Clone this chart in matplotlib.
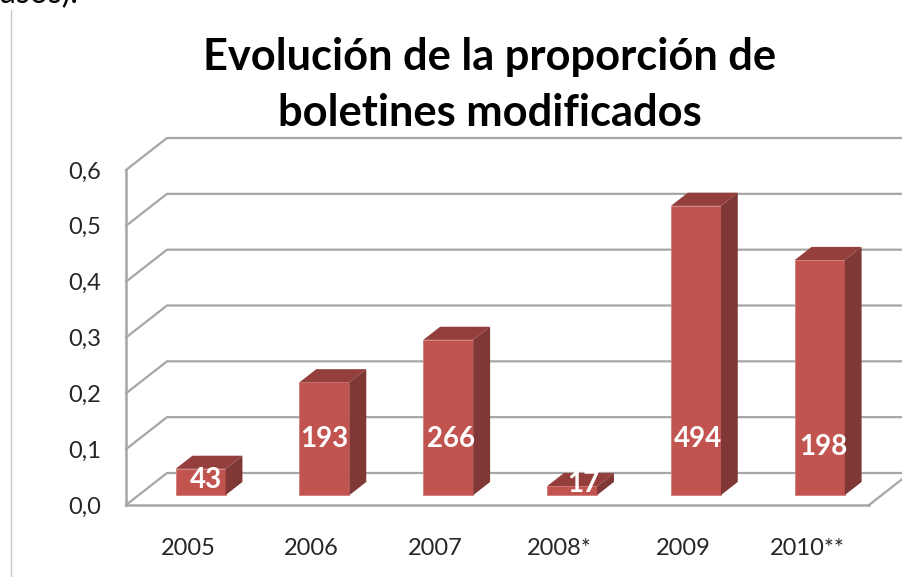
import matplotlib
matplotlib.use('Agg')
import matplotlib.pyplot as plt
from matplotlib.patches import Polygon
from matplotlib.lines import Line2D

# datos
years = ['2005', '2006', '2007', '2008*', '2009', '2010**']
proportion = [0.047, 0.202, 0.278, 0.016, 0.518, 0.421]
counts = [43, 193, 266, 17, 494, 198]
y_ticks = [0.0, 0.1, 0.2, 0.3, 0.4, 0.5, 0.6]
title = 'Evolución de la proporción de\nboletines modificados'

W, H = 902, 577
plt.rcParams['font.family'] = ['Lato', 'DejaVu Sans']

fig = plt.figure(figsize=(W / 100, H / 100), dpi=100)
ax = fig.add_axes([126 / W, (H - 505) / H, 743 / W, 335 / H])
ax.set_xlim(-0.5, 5.5)
ax.set_ylim(0, 0.6)

# profundidad del grafico 3D en unidades de datos
depth_x = 41 / (743 / 6)
depth_y = 32 / (335 / 0.6)
grid_col = '#A6A6A6'


def at_depth(x, y, d):
    return (x + depth_x * d, y + depth_y * d)


# rejilla: linea inclinada en la pared izquierda y linea horizontal atras
for t in y_ticks:
    ax.add_line(Line2D([-0.5, -0.5 + depth_x, 5.5 + depth_x],
                       [t, t + depth_y, t + depth_y],
                       color=grid_col, lw=1.6, clip_on=False, zorder=1))
ax.add_line(Line2D([5.5, 5.5 + depth_x], [0, depth_y],
                   color=grid_col, lw=1.6, clip_on=False, zorder=1))

# barras
bar_w = 50 / (743 / 6)
d0, d1 = 0.31, 0.72
# posicion de las etiquetas dentro de cada barra
label_h = [0.027, 0.101, 0.101, 0.019, 0.101, 0.086]
label_dx = [0.04, 0.0, 0.02, 0.09, 0.02, 0.03]
for i, v in enumerate(proportion):
    l = i - bar_w / 2
    r = i + bar_w / 2
    fl, fb = at_depth(l, 0, d0)
    ax.bar(fl, v, width=bar_w, bottom=fb, align='edge', color='#C25450',
           edgecolor='#CF7F7C', linewidth=0.6, zorder=3)
    top = [at_depth(l, v, d0), at_depth(r, v, d0), at_depth(r, v, d1), at_depth(l, v, d1)]
    side = [at_depth(r, 0, d0), at_depth(r, v, d0), at_depth(r, v, d1), at_depth(r, 0, d1)]
    ax.add_patch(Polygon(top, closed=True, fc='#953F3C', ec='none', clip_on=False, zorder=3))
    ax.add_patch(Polygon(side, closed=True, fc='#7F3835', ec='none', clip_on=False, zorder=3))
    lx, ly = at_depth(i + label_dx[i], label_h[i], d0)
    ax.text(lx, ly, str(counts[i]), color='white', fontsize=20, fontweight='bold',
            ha='center', va='center', zorder=5, clip_on=False)

# ejes
ax.set_xticks(range(len(years)))
ax.set_xticklabels(years)
ax.set_yticks(y_ticks)
ax.set_yticklabels(['{:.1f}'.format(t).replace('.', ',') for t in y_ticks])
ax.tick_params(axis='both', length=0, labelsize=17, labelcolor='#262626')
ax.tick_params(axis='x', pad=24)
ax.tick_params(axis='y', pad=18)
for s in ['top', 'right']:
    ax.spines[s].set_visible(False)
for s in ['left', 'bottom']:
    ax.spines[s].set_color(grid_col)
    ax.spines[s].set_linewidth(1.8)
ax.patch.set_alpha(0)

# titulo
fig.text(490 / W, 1 - 85 / H, title, ha='center', va='center', fontsize=31.2,
         fontweight='bold', color='black', linespacing=1.5)

# resto de la pagina
fig.add_artist(Line2D([10.5 / W, 10.5 / W], [0, 1 - 10 / H], color='#C8C8C8', lw=1))
fig.text(0 / W, 1 + 6 / H, 'asos).', fontsize=23, color='black', ha='left', va='center')

fig.savefig('out.png', dpi=100)
